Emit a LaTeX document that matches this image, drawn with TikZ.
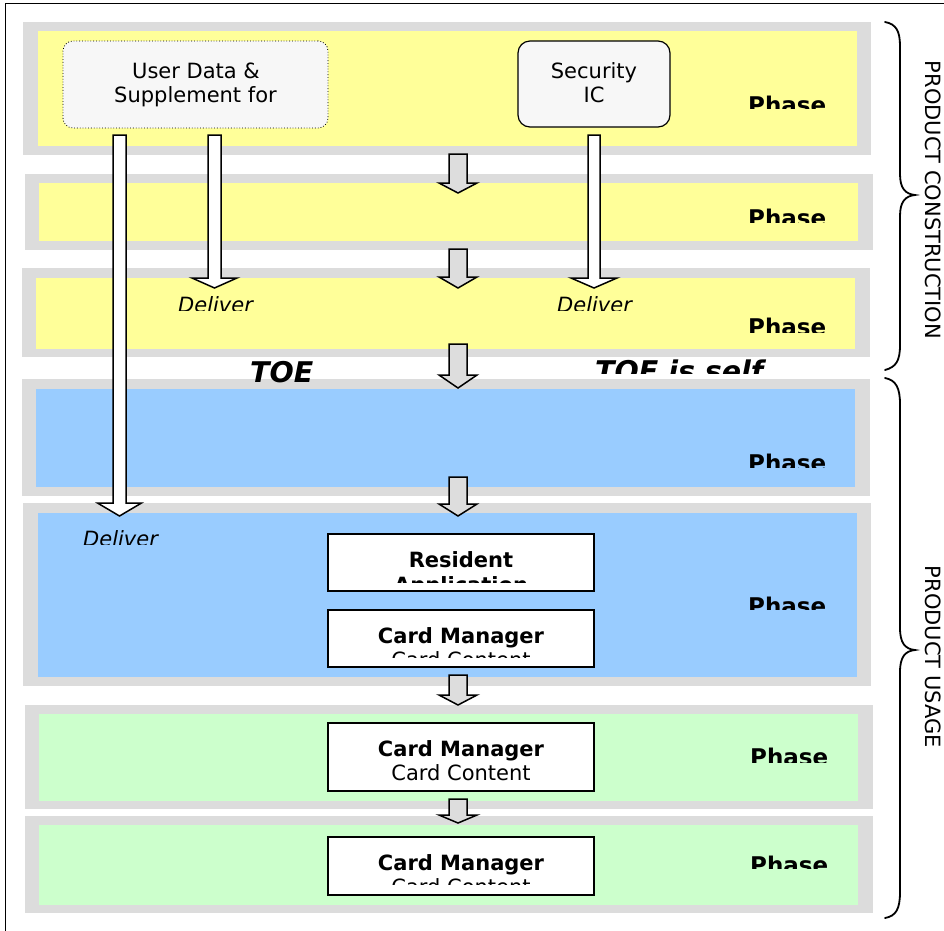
\documentclass[tikz,border=0pt]{standalone}
\usepackage{fontspec}
\setmainfont{DejaVu Sans}[ItalicFont={DejaVu Sans Oblique},BoldFont={DejaVu Sans Bold},BoldItalicFont={DejaVu Sans Bold Oblique}]
\usetikzlibrary{calc}
\definecolor{bandgray}{HTML}{DCDCDC}
\definecolor{yel}{HTML}{FFFF99}
\definecolor{blu}{HTML}{99CCFF}
\definecolor{grn}{HTML}{CCFFCC}
\definecolor{boxfill}{HTML}{F7F7F7}
\definecolor{arrgray}{HTML}{DDDDDD}
\newcommand{\blockarr}[6]{%
  \draw[#1] let \p1=(#2), \p2=(#3) in
    (\x1-#4pt,\y1) -- (\x1+#4pt,\y1) -- (\x1+#4pt,\y2+#6pt) -- (\x1+#5pt,\y2+#6pt)
    -- (\x2,\y2) -- (\x1-#5pt,\y2+#6pt) -- (\x1-#4pt,\y2+#6pt) -- cycle;}
\begin{document}
\begin{tikzpicture}[x=1pt,y=-1pt,line join=miter,
  band/.style={fill=bandgray},
  reg/.style={font=\fontsize{21}{24}\selectfont,inner sep=0pt},
  boldtxt/.style={font=\fontsize{21}{24}\selectfont\bfseries,inner sep=0pt},
  phasetxt/.style={font=\fontsize{23}{27}\selectfont\bfseries,inner sep=0pt,anchor=base west},
  delivtxt/.style={font=\fontsize{21}{24}\selectfont\itshape,inner sep=0pt,anchor=base west},
  toetxt/.style={font=\fontsize{28.5}{32}\selectfont\bfseries\itshape,inner sep=0pt,anchor=base west},
  sidetxt/.style={font=\fontsize{21}{24}\selectfont,inner sep=0pt,anchor=base,rotate=-90},
  whitebox/.style={draw=black,line width=1.5pt,fill=white,inner sep=0pt},
  grayarrow/.style={draw=black,line width=1.5pt,fill=arrgray},
  whitearrow/.style={draw=black,line width=1.5pt,fill=white},
  bracestyle/.style={draw=black,line width=1.8pt,line cap=round}]
\useasboundingbox (0,0) rectangle (944,930);
\clip (0,0) rectangle (944,930);
\fill[white] (0,0) rectangle (944,930);

% phase bands
\fill[band] (23,22) rectangle (871,155);  \fill[yel] (38,31) rectangle (857,146);
\fill[band] (25,174) rectangle (873,250); \fill[yel] (39,183) rectangle (858,241);
\fill[band] (22,268) rectangle (870,357); \fill[yel] (36,278) rectangle (855,349);
\fill[band] (22,379) rectangle (870,496); \fill[blu] (36,389) rectangle (855,487);
\fill[band] (23,503) rectangle (871,686); \fill[blu] (38,513) rectangle (857,677);
\fill[band] (25,705) rectangle (873,809); \fill[grn] (39,714) rectangle (858,801);
\fill[band] (25,816) rectangle (873,913); \fill[grn] (39,825) rectangle (858,905);

% central flow arrows
\coordinate (g1s) at (458,154); \coordinate (g1e) at (458,193);
\coordinate (g2s) at (458,249); \coordinate (g2e) at (458,288);
\coordinate (g3s) at (458,344); \coordinate (g3e) at (458,388);
\coordinate (g4s) at (458,477); \coordinate (g4e) at (458,516);
\coordinate (g5s) at (458,675); \coordinate (g5e) at (458,705);
\coordinate (g6s) at (458,799); \coordinate (g6e) at (458,823);
\blockarr{grayarrow}{g1s}{g1e}{9}{19}{10}
\blockarr{grayarrow}{g2s}{g2e}{9}{19}{11}
\blockarr{grayarrow}{g3s}{g3e}{9}{19}{13}
\blockarr{grayarrow}{g4s}{g4e}{9}{19}{12}
\blockarr{grayarrow}{g5s}{g5e}{9}{19}{10}
\blockarr{grayarrow}{g6s}{g6e}{9}{19}{8}

% top boxes
\node[draw=black,line width=0.8pt,dotted,rounded corners=10pt,fill=boxfill,minimum width=265pt,minimum height=87pt,inner sep=0pt] (ud) at (195.5,84.5) {};
\node[draw=black,line width=1.2pt,rounded corners=12pt,fill=boxfill,minimum width=152pt,minimum height=86pt,inner sep=0pt] (sic) at (594,84) {};
\node[reg,anchor=base] (ud1) at (196,78) {User Data \&};
\node[reg,anchor=base] (ud2) at (195.5,102) {Supplement for};
\node[reg,anchor=base] (sic1) at (594,78) {Security};
\node[reg,anchor=base] (sic2) at (594,102) {IC};

% delivery arrows
\coordinate (wAs) at (119.5,135); \coordinate (wAe) at (119.5,516);
\coordinate (wBs) at (214.5,135); \coordinate (wBe) at (214.5,288);
\coordinate (wCs) at (594,135);   \coordinate (wCe) at (594,288);
\blockarr{whitearrow}{wAs}{wAe}{6.5}{22}{13}
\blockarr{whitearrow}{wBs}{wBe}{6.5}{22.5}{10}
\blockarr{whitearrow}{wCs}{wCe}{6}{23}{10}

% phase labels (clipped)
\begin{scope}\clip (700,60) rectangle (870,108);
\node[phasetxt] (ph1) at (748,113) {Phase};\end{scope}
\begin{scope}\clip (700,190) rectangle (870,222);
\node[phasetxt] (ph2) at (748,226) {Phase};\end{scope}
\begin{scope}\clip (700,300) rectangle (870,332);
\node[phasetxt] (ph3) at (748,335) {Phase};\end{scope}
\begin{scope}\clip (700,430) rectangle (870,467);
\node[phasetxt] (ph4) at (748,471) {Phase};\end{scope}
\begin{scope}\clip (700,570) rectangle (870,609);
\node[phasetxt] (ph5) at (748,614) {Phase};\end{scope}
\begin{scope}\clip (700,720) rectangle (870,762);
\node[phasetxt] (ph6) at (750,765) {Phase};\end{scope}
\begin{scope}\clip (700,830) rectangle (870,868);
\node[phasetxt] (ph7) at (750,873) {Phase};\end{scope}

% deliver labels
\begin{scope}\clip (60,280) rectangle (700,310);
\node[delivtxt] (dv1) at (178,312) {Deliver};
\node[delivtxt] (dv2) at (557,312) {Deliver};\end{scope}
\begin{scope}\clip (60,520) rectangle (300,544);
\node[delivtxt] (dv3) at (83,546) {Deliver};\end{scope}

% TOE labels
\node[toetxt] (toe) at (250,382) {TOE};
\begin{scope}\clip (560,340) rectangle (820,373);
\node[toetxt] (toes) at (595,381) {TOE is self};\end{scope}

% content boxes
\node[whitebox,minimum width=266pt,minimum height=57pt] (res) at (461,562.5) {};
\node[boldtxt,anchor=base] (res1) at (461,567) {Resident};
\begin{scope}\clip (330,560) rectangle (592,582);
\node[boldtxt,anchor=base] (res2) at (461,592) {Application};\end{scope}

\node[whitebox,minimum width=266pt,minimum height=57pt] (cm5) at (461,638.5) {};
\node[boldtxt,anchor=base] (cm5a) at (461,643) {Card Manager};
\begin{scope}\clip (330,640) rectangle (592,657);
\node[reg,anchor=base] (cm5b) at (461,667) {Card Content};\end{scope}

\node[whitebox,minimum width=266pt,minimum height=68pt] (cm6) at (461,757) {};
\node[boldtxt,anchor=base] (cm6a) at (461,756) {Card Manager};
\node[reg,anchor=base] (cm6b) at (461,780) {Card Content};

\node[whitebox,minimum width=266pt,minimum height=58pt] (cm7) at (461,866) {};
\node[boldtxt,anchor=base] (cm7a) at (461,870) {Card Manager};
\begin{scope}\clip (330,860) rectangle (592,884);
\node[reg,anchor=base] (cm7b) at (461,894) {Card Content};\end{scope}

% braces
\draw[bracestyle] (885,22) .. controls (896,24) and (900,31) .. (900,46) -- (900,174)
  .. controls (900,188) and (905,194) .. (915,195)
  .. controls (905,196) and (900,202) .. (900,216) -- (900,345)
  .. controls (900,361) and (896,367) .. (885,370);
\draw[bracestyle] (885,378) .. controls (896,380) and (900,388) .. (900,404) -- (900,628)
  .. controls (900,643) and (905,649) .. (915,650)
  .. controls (905,651) and (900,657) .. (900,672) -- (900,892)
  .. controls (900,909) and (896,916) .. (885,918);
\node[sidetxt] (pc) at (925,200) {PRODUCT CONSTRUCTION};
\node[sidetxt] (pu) at (925,657) {PRODUCT USAGE};

% outer frame
\draw[line width=1.5pt] (5.5,3.5) rectangle (980,980);
\end{tikzpicture}
\end{document}
